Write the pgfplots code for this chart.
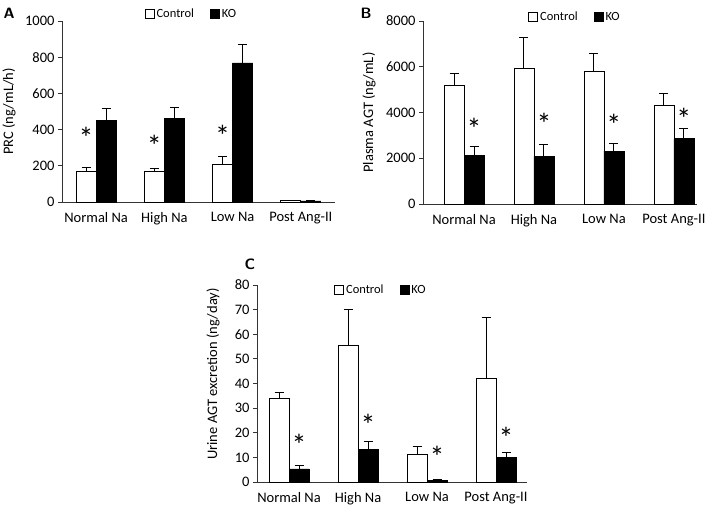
\documentclass[border=0pt]{standalone}
\usepackage{pgfplots}
\pgfplotsset{compat=1.18}
\usepackage{fontspec}
\setmainfont{Carlito}
\newcommand{\tfnt}{\fontsize{14.5}{16}\selectfont}
\newcommand{\lfnt}{\fontsize{12.5}{14}\selectfont}
\newcommand{\stfnt}{\fontsize{30}{30}\selectfont}
\pgfplotsset{
  panel/.style={
    scale only axis,
    anchor=south west,
    axis x line*=bottom, axis y line*=left,
    axis line style={line width=0.9pt, black!80},
    xtick={0,1,2,3},
    xticklabels={Normal Na, High Na, Low Na, Post Ang-II},
    x tick style={draw=none},
    xticklabel style={yshift=-3pt},
    y tick style={line width=0.9pt, black!80},
    tick align=outside, major tick length=4pt,
    ymin=0,
    tick label style={font=\tfnt},
    /pgf/number format/assume math mode=true,
    /pgf/number format/1000 sep={},
    legend style={draw=none, fill=none, font=\lfnt, legend columns=2, anchor=center, inner sep=0pt,
      /tikz/every even column/.append style={column sep=14pt}},
    legend image code/.code={\draw[#1, line width=0.8pt] (0pt,-4.5pt) rectangle (9pt,4.5pt);},
    clip=false,
  },
  ctrl/.style={ybar, bar width=20pt, bar shift=0pt, fill=white, draw=black, line width=0.8pt,
    error bars/.cd, y dir=plus, y explicit, error mark=|, error bar style={line width=1pt, black},
    error mark options={draw=black, mark size=4.5pt, line width=1pt}},
  ko/.style={ybar, bar width=20pt, bar shift=0pt, fill=black, draw=black, line width=0.8pt,
    error bars/.cd, y dir=plus, y explicit, error mark=|, error bar style={line width=1pt, black},
    error mark options={draw=black, mark size=4.5pt, line width=1pt}},
  star/.style={draw=none, mark=none, forget plot, nodes near coords={*},
    nodes near coords align={center}, every node near coord/.style={font=\stfnt, inner sep=0pt, anchor=center}},
}
\begin{document}
\begin{tikzpicture}
\useasboundingbox (0,0) rectangle (709pt,-507pt);
% Panel A
\begin{axis}[panel, at={(62pt,-202pt)}, width=273pt, height=181pt,
  xmin=-0.5, xmax=3.5, ymax=1000, ytick={0,200,...,1000},
  ylabel={PRC (ng/mL/h)},
  every axis y label/.style={at={(axis description cs:-0.194,0.5)}, rotate=90, anchor=center, font=\tfnt},
  legend style={at={(0.474,1.039)}}]
\addplot[ctrl] table[x=x, y=y, y error=e] {
x y e
-0.1465 168 20
0.8535 168 18
1.8535 210 40
2.8535 7 3
};
\addlegendentry{Control}
\addplot[ko] table[x=x, y=y, y error=e] {
x y e
0.1465 452 66
1.1465 460 62
2.1465 768 100
3.1465 6 3
};
\addlegendentry{KO}
\addplot[star] coordinates {(-0.1465,354) (0.8535,312) (1.8535,365)};
\end{axis}
% Panel B
\begin{axis}[panel, at={(423pt,-204pt)}, width=274pt, height=183pt,
  xmin=-0.586, xmax=3.33, ymax=8000, ytick={0,2000,...,8000},
  ylabel={Plasma AGT (ng/mL)},
  every axis y label/.style={at={(axis description cs:-0.197,0.5)}, rotate=90, anchor=center, font=\tfnt},
  legend style={at={(0.555,1.02)}}]
\addplot[ctrl] table[x=x, y=y, y error=e] {
x y e
-0.1429 5200 500
0.8571 5920 1370
1.8571 5800 760
2.8571 4330 480
};
\addlegendentry{Control}
\addplot[ko] table[x=x, y=y, y error=e] {
x y e
0.1429 2130 400
1.1429 2070 510
2.1429 2310 340
3.1429 2850 450
};
\addlegendentry{KO}
\addplot[star] coordinates {(0.1429,3300) (1.1429,3520) (2.1429,3450) (3.1429,3740)};
\end{axis}
% Panel C
\begin{axis}[panel, at={(257pt,-482pt)}, width=270pt, height=197pt,
  xmin=-0.464, xmax=3.449, ymax=80, ytick={0,10,...,80},
  ylabel={Urine AGT excretion (ng/day)},
  every axis y label/.style={at={(axis description cs:-0.163,0.548)}, rotate=90, anchor=center, font=\tfnt},
  legend style={at={(0.459,0.975)}}]
\addplot[ctrl] table[x=x, y=y, y error=e] {
x y e
-0.1449 33.8 2.6
0.8551 55.4 14.5
1.8551 11.1 3.4
2.8551 42.2 24.7
};
\addlegendentry{Control}
\addplot[ko] table[x=x, y=y, y error=e] {
x y e
0.1449 5.3 1.6
1.1449 13.1 3.5
2.1449 0.7 0.5
3.1449 10.0 1.8
};
\addlegendentry{KO}
\addplot[star] coordinates {(0.1449,15.1) (1.1449,23.2) (2.1449,10.4) (3.1449,17.8)};
\end{axis}
\node[font=\fontsize{15}{15}\bfseries\sffamily\selectfont, anchor=center] at (9pt,-13pt) {A};
\node[font=\fontsize{15}{15}\bfseries\sffamily\selectfont, anchor=center] at (366pt,-13pt) {B};
\node[font=\fontsize{15}{15}\bfseries\sffamily\selectfont, anchor=center] at (250pt,-264pt) {C};
\end{tikzpicture}
\end{document}
